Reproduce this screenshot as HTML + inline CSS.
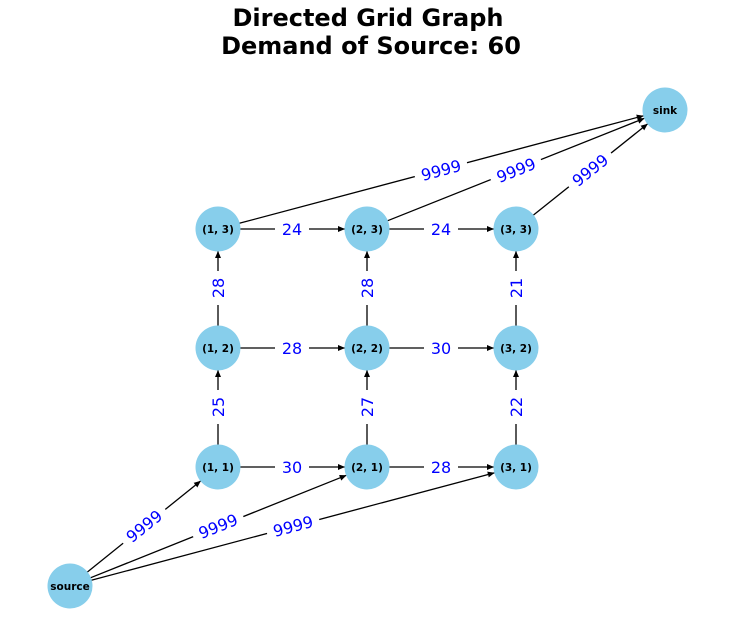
<!DOCTYPE html>
<html><head><meta charset="utf-8"><style>
html,body{margin:0;padding:0;background:#fff;width:734px;height:643px;overflow:hidden}
svg{display:block}
.t{font-family:"DejaVu Sans","Liberation Sans",sans-serif;font-weight:bold;font-size:24px;fill:#000}
.n{font-family:"DejaVu Sans","Liberation Sans",sans-serif;font-weight:bold;font-size:10.5px;fill:#000}
.l{font-family:"DejaVu Sans","Liberation Sans",sans-serif;font-size:16px;fill:#0000ff}
line{stroke:#000;stroke-width:1.3}
</style></head><body>
<svg width="734" height="643" viewBox="0 0 734 643">
<defs><marker id="a" markerUnits="userSpaceOnUse" markerWidth="8" markerHeight="6" refX="7" refY="3" orient="auto"><path d="M0,0 L7,3 L0,6 z" fill="#000"/></marker></defs>
<text class="t" x="368" y="26" text-anchor="middle">Directed Grid Graph</text>
<text class="t" x="371" y="54" text-anchor="middle">Demand of Source: 60</text>
<g marker-end="url(#a)">
<line x1="87.1" y1="572.2" x2="200.9" y2="480.8"/>
<line x1="90.4" y1="577.8" x2="346.6" y2="475.2"/>
<line x1="91.3" y1="580.3" x2="494.7" y2="472.7"/>
<line x1="239.3" y1="223.3" x2="643.7" y2="115.7"/>
<line x1="387.4" y1="220.8" x2="644.6" y2="118.2"/>
<line x1="533.2" y1="215.3" x2="647.8" y2="123.7"/>
<line x1="240" y1="467" x2="345" y2="467"/><line x1="389" y1="467" x2="494" y2="467"/>
<line x1="240" y1="348" x2="345" y2="348"/><line x1="389" y1="348" x2="494" y2="348"/>
<line x1="240" y1="229" x2="345" y2="229"/><line x1="389" y1="229" x2="494" y2="229"/>
<line x1="218" y1="445" x2="218" y2="370"/><line x1="367" y1="445" x2="367" y2="370"/><line x1="516" y1="445" x2="516" y2="370"/>
<line x1="218" y1="326" x2="218" y2="251"/><line x1="367" y1="326" x2="367" y2="251"/><line x1="516" y1="326" x2="516" y2="251"/>
</g>
<g class="l" text-anchor="middle">
<g transform="translate(144,526) rotate(-38.8)"><rect x="-27" y="-11" width="54" height="22" fill="#fff"/><text y="6">9999</text></g>
<g transform="translate(218,526) rotate(-21.8)"><rect x="-27" y="-11" width="54" height="22" fill="#fff"/><text y="6">9999</text></g>
<g transform="translate(293,526) rotate(-14.9)"><rect x="-27" y="-11" width="54" height="22" fill="#fff"/><text y="6">9999</text></g>
<g transform="translate(441,170) rotate(-14.9)"><rect x="-27" y="-11" width="54" height="22" fill="#fff"/><text y="6">9999</text></g>
<g transform="translate(516,170) rotate(-21.8)"><rect x="-27" y="-11" width="54" height="22" fill="#fff"/><text y="6">9999</text></g>
<g transform="translate(590,170) rotate(-38.6)"><rect x="-27" y="-11" width="54" height="22" fill="#fff"/><text y="6">9999</text></g>
<g transform="translate(292,467)"><rect x="-17" y="-11" width="34" height="22" fill="#fff"/><text y="6">30</text></g>
<g transform="translate(441,467)"><rect x="-17" y="-11" width="34" height="22" fill="#fff"/><text y="6">28</text></g>
<g transform="translate(292,348)"><rect x="-17" y="-11" width="34" height="22" fill="#fff"/><text y="6">28</text></g>
<g transform="translate(441,348)"><rect x="-17" y="-11" width="34" height="22" fill="#fff"/><text y="6">30</text></g>
<g transform="translate(292,229)"><rect x="-17" y="-11" width="34" height="22" fill="#fff"/><text y="6">24</text></g>
<g transform="translate(441,229)"><rect x="-17" y="-11" width="34" height="22" fill="#fff"/><text y="6">24</text></g>
<g transform="translate(218,407) rotate(-90)"><rect x="-17" y="-11" width="34" height="22" fill="#fff"/><text y="6">25</text></g>
<g transform="translate(367,407) rotate(-90)"><rect x="-17" y="-11" width="34" height="22" fill="#fff"/><text y="6">27</text></g>
<g transform="translate(516,407) rotate(-90)"><rect x="-17" y="-11" width="34" height="22" fill="#fff"/><text y="6">22</text></g>
<g transform="translate(218,288) rotate(-90)"><rect x="-17" y="-11" width="34" height="22" fill="#fff"/><text y="6">28</text></g>
<g transform="translate(367,288) rotate(-90)"><rect x="-17" y="-11" width="34" height="22" fill="#fff"/><text y="6">28</text></g>
<g transform="translate(516,288) rotate(-90)"><rect x="-17" y="-11" width="34" height="22" fill="#fff"/><text y="6">21</text></g>
</g>
<g fill="#87ceeb">
<circle cx="218" cy="467" r="22.5"/><circle cx="367" cy="467" r="22.5"/><circle cx="516" cy="467" r="22.5"/>
<circle cx="218" cy="348" r="22.5"/><circle cx="367" cy="348" r="22.5"/><circle cx="516" cy="348" r="22.5"/>
<circle cx="218" cy="229" r="22.5"/><circle cx="367" cy="229" r="22.5"/><circle cx="516" cy="229" r="22.5"/>
<circle cx="70" cy="586" r="22.5"/><circle cx="665" cy="110" r="22.5"/>
</g>
<g class="n" text-anchor="middle">
<text x="218" y="471">(1, 1)</text><text x="367" y="471">(2, 1)</text><text x="516" y="471">(3, 1)</text>
<text x="218" y="352">(1, 2)</text><text x="367" y="352">(2, 2)</text><text x="516" y="352">(3, 2)</text>
<text x="218" y="233">(1, 3)</text><text x="367" y="233">(2, 3)</text><text x="516" y="233">(3, 3)</text>
<text x="70" y="590">source</text><text x="665" y="114">sink</text>
</g>
</svg>
</body></html>
